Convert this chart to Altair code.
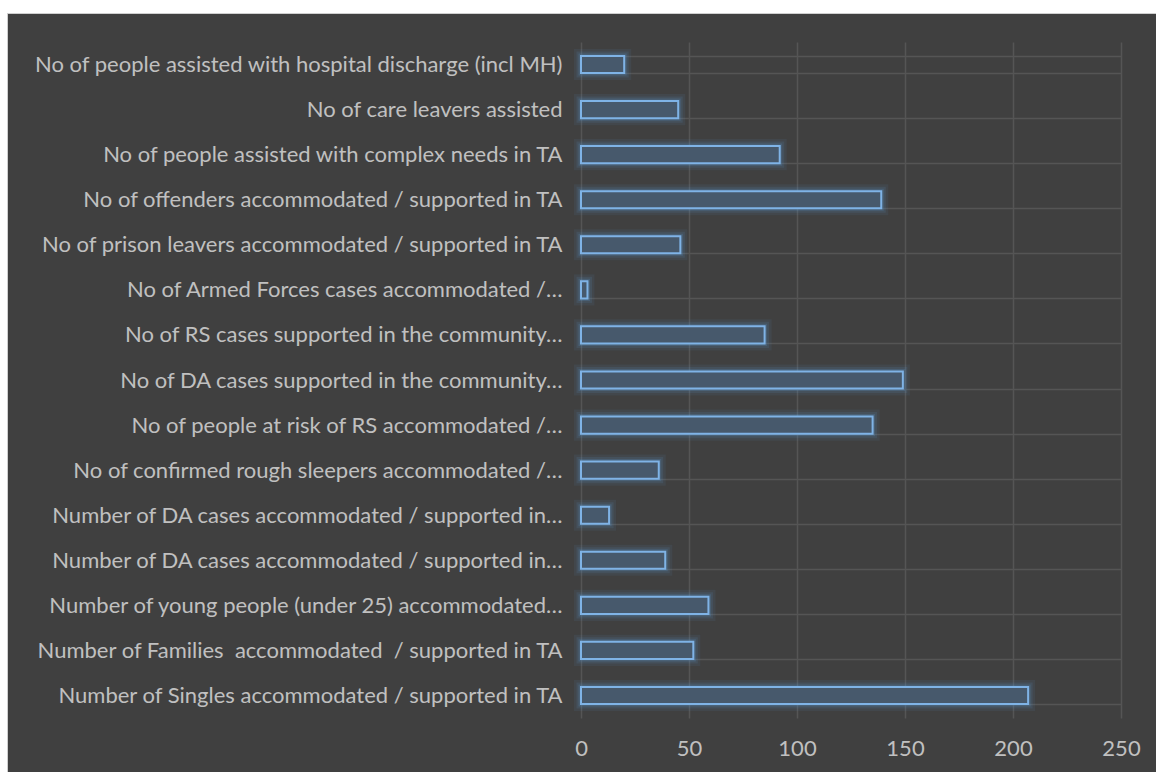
import json
import altair as alt
import pandas as pd

labels = [
    "No of people assisted with hospital discharge (incl MH)",
    "No of care leavers assisted",
    "No of people assisted with complex needs in TA",
    "No of offenders accommodated / supported in TA",
    "No of prison leavers accommodated / supported in TA",
    "No of Armed Forces cases accommodated /…",
    "No of RS cases supported in the community…",
    "No of DA cases supported in the community…",
    "No of people at risk of RS accommodated /…",
    "No of confirmed rough sleepers accommodated /…",
    "Number of DA cases accommodated / supported in…",
    "Number of DA cases accommodated / supported in…",
    "Number of young people (under 25) accommodated…",
    "Number of Families\u00a0 accommodated\u00a0 / supported in TA",
    "Number of Singles accommodated / supported in TA",
]
values = [20, 45, 92, 139, 46, 3, 85, 149, 135, 36, 13, 39, 59, 52, 207]
x_ticks = [0, 50, 100, 150, 200, 250]

df = pd.DataFrame({"idx": list(range(len(labels))), "value": values})
label_expr = json.dumps(labels) + "[datum.value]"

FONT = "Lato"
TXT = "#c0c0c0"
GRID = "#555555"

y_enc = alt.Y(
    "idx:O",
    sort="ascending",
    scale=alt.Scale(paddingInner=0.62, paddingOuter=0.31),
    axis=alt.Axis(
        title=None, labelExpr=label_expr, labelFont=FONT, labelFontSize=22,
        labelColor=TXT, labelPadding=19, labelLimit=700, ticks=False,
        domain=False, grid=True, gridColor=GRID, gridWidth=1.5, tickBand="extent",
    ),
)
x_enc = alt.X(
    "value:Q",
    scale=alt.Scale(domain=[0, 250], nice=False),
    axis=alt.Axis(
        title=None, values=x_ticks, labelFont=FONT, labelFontSize=22,
        labelColor=TXT, labelPadding=20, labelFlush=False, ticks=False,
        domain=False, grid=True, gridColor=GRID, gridWidth=1.5,
    ),
)

base = alt.Chart(df).encode(x=x_enc, y=y_enc)

glow1 = base.mark_bar(fillOpacity=0, stroke="#5b9bd5", strokeWidth=14, strokeOpacity=0.08)
glow2 = base.mark_bar(fillOpacity=0, stroke="#5b9bd5", strokeWidth=9, strokeOpacity=0.12)
glow3 = base.mark_bar(fillOpacity=0, stroke="#5b9bd5", strokeWidth=5, strokeOpacity=0.2)
bars = base.mark_bar(fill="#47596c", stroke="#7fb3e6", strokeWidth=2)

frame = pd.DataFrame({"k": [0]})
top_border = alt.Chart(frame).mark_rect(fill="#cfcfcf").encode(
    x=alt.value(-581), x2=alt.value(600), y=alt.value(-42), y2=alt.value(-28)
)
left_border = alt.Chart(frame).mark_rect(fill="#cfcfcf").encode(
    x=alt.value(-581), x2=alt.value(-573), y=alt.value(-42), y2=alt.value(760)
)
top_white = alt.Chart(frame).mark_rect(fill="white").encode(
    x=alt.value(-581), x2=alt.value(600), y=alt.value(-42), y2=alt.value(-29)
)
left_white = alt.Chart(frame).mark_rect(fill="white").encode(
    x=alt.value(-581), x2=alt.value(-574), y=alt.value(-42), y2=alt.value(760)
)

chart = alt.layer(
    glow1, glow2, glow3, bars, top_border, left_border, top_white, left_white
).properties(
    width=540,
    height=676,
    background="#404040",
    padding={"left": 581, "top": 42, "right": 35, "bottom": 54},
    autosize=alt.AutoSizeParams(type="none"),
).configure_view(stroke=None)

chart.save("out.html", embed_options={"renderer": "svg", "actions": False})
